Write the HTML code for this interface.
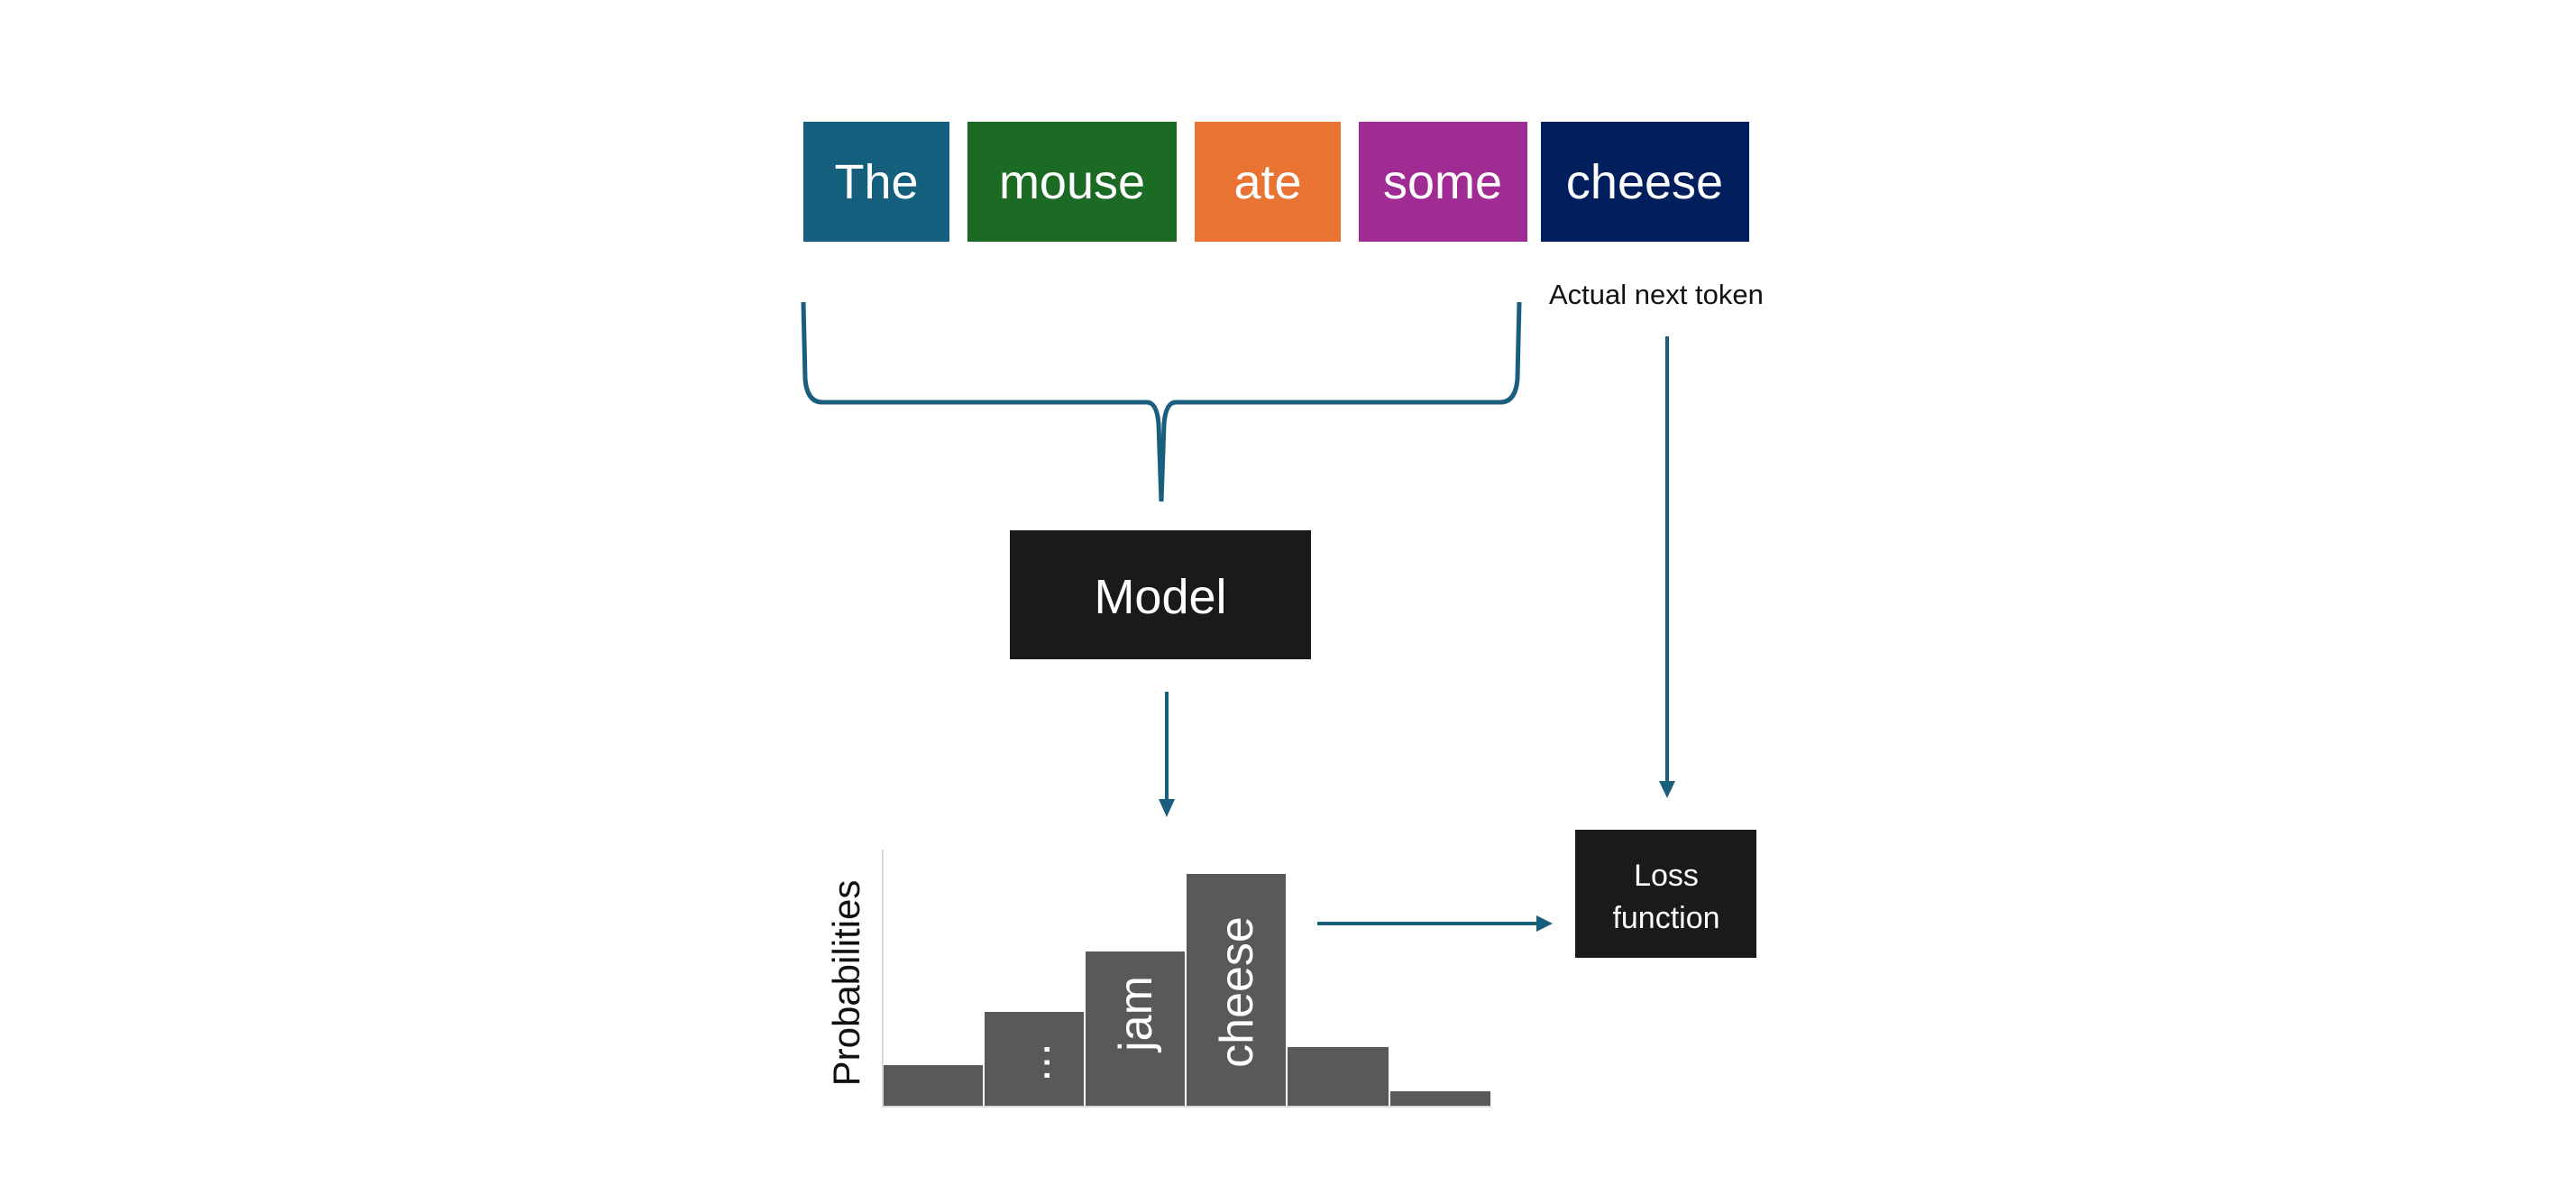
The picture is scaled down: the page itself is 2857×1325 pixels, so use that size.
<!DOCTYPE html>
<html><head><meta charset="utf-8"><style>
html,body{margin:0;padding:0;background:#fff;}
svg{display:block;}
text{font-family:"Liberation Sans",sans-serif;}
</style></head><body>
<svg width="2857" height="1325" viewBox="0 0 2857 1325" xmlns="http://www.w3.org/2000/svg">
<!-- tokens -->
<rect x="891" y="135" width="162" height="133" fill="#155F7E"/>
<rect x="1073" y="135" width="232" height="133" fill="#1B6B24"/>
<rect x="1325" y="135" width="162" height="133" fill="#E87332"/>
<rect x="1507" y="135" width="187" height="133" fill="#A02B93"/>
<rect x="1709" y="135" width="231" height="133" fill="#001F5C"/>
<g fill="#fff" font-size="54" text-anchor="middle">
<text x="972" y="220">The</text>
<text x="1189" y="220">mouse</text>
<text x="1406" y="220">ate</text>
<text x="1600" y="220">some</text>
<text x="1824" y="220">cheese</text>
</g>
<text x="1718" y="337" font-size="31" fill="#111">Actual next token</text>
<!-- brace -->
<path d="M891 335 L893 420 Q895 446 912 446 L1272 446 Q1283 446 1285 470 L1288 556 L1291 470 Q1293 446 1304 446 L1664 446 Q1681 446 1683 420 L1685 335" fill="none" stroke="#1A5E7E" stroke-width="5"/>
<!-- model -->
<rect x="1120" y="588" width="334" height="143" fill="#1A1A1A"/>
<text x="1287" y="680" font-size="54" fill="#fff" text-anchor="middle">Model</text>
<!-- arrows -->
<g stroke="#1A5E7E" stroke-width="4" fill="#1A5E7E">
<line x1="1294" y1="767" x2="1294" y2="890"/>
<line x1="1849" y1="373" x2="1849" y2="870"/>
<line x1="1461" y1="1024" x2="1708" y2="1024"/>
</g>
<g fill="#1A5E7E">
<polygon points="1285,886 1303,886 1294,906"/>
<polygon points="1840,866 1858,866 1849,885"/>
<polygon points="1704,1015 1704,1033 1722,1024"/>
</g>
<!-- loss -->
<rect x="1747" y="920" width="201" height="142" fill="#1A1A1A"/>
<text x="1848" y="982" font-size="34" fill="#fff" text-anchor="middle">Loss</text>
<text x="1848" y="1029" font-size="34" fill="#fff" text-anchor="middle">function</text>
<!-- chart -->
<line x1="979" y1="942" x2="979" y2="1227" stroke="#d9d9d9" stroke-width="2"/>
<line x1="978" y1="1227" x2="1654" y2="1227" stroke="#d9d9d9" stroke-width="2"/>
<g fill="#595959">
<rect x="980" y="1181" width="110" height="45"/>
<rect x="1092" y="1122" width="110" height="104"/>
<rect x="1204" y="1055" width="110" height="171"/>
<rect x="1316" y="969" width="110" height="257"/>
<rect x="1428" y="1161" width="112" height="65"/>
<rect x="1542" y="1210" width="111" height="16"/>
</g>
<text transform="translate(953,1090) rotate(-90)" font-size="42" fill="#111" text-anchor="middle">Probabilities</text>
<g fill="#fff" font-size="52" text-anchor="middle">
<text transform="translate(1164,1178) rotate(-90)">...</text>
<text transform="translate(1277,1124) rotate(-90)">jam</text>
<text transform="translate(1389,1100) rotate(-90)">cheese</text>
</g>
</svg>
</body></html>
